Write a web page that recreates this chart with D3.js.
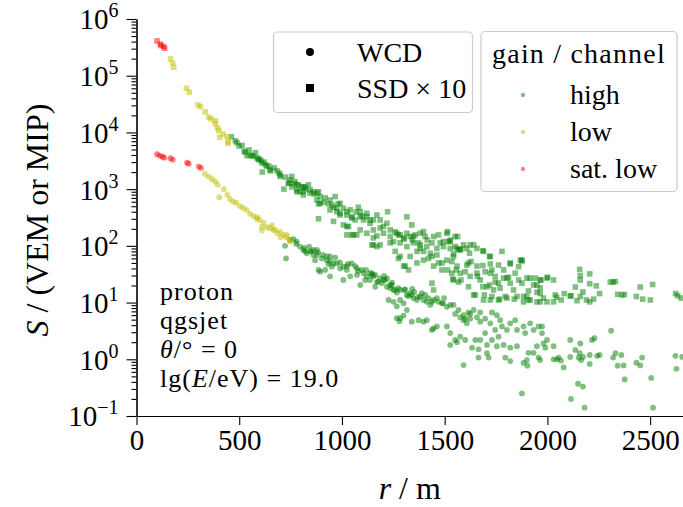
<!DOCTYPE html>
<html>
<head>
<meta charset="utf-8">
<script src="https://cdn.jsdelivr.net/npm/d3@7"></script>
<style>
  body { margin: 0; background: #fff; }
  text { font-family: "Liberation Serif", "DejaVu Serif", serif; fill: #000; }
</style>
</head>
<body>
<svg id="chart" width="683" height="507"></svg>
<script>
// ---- data: [r (m), S (VEM or MIP)] ----
const wcdSatLow = [[100,4130],[113,3900],[126,3740],[135,3590],[165,3510],[176,3310],[246,2930],[254,2815],[303,2500],[314,2370]];

const wcdLow = [[333,1850],[352,1660],[368,1500],[384,1360],[395,1190],[425,1000],[403,720],[442,790],[455,665],[471,600],
  [485,575],[504,500],[520,460],[537,430],[553,365],[569,335],[588,320],[598,286],[618,256],[634,213],[610,186],[650,205],
  [675,191],[699,177],[715,156],[728,142],[744,127],[702,142],[748,119],[686,165],[660,230],[585,300],[610,217],[666,191],[732,156]];

const wcdHigh = [[764,131],[780,119],[796,97],[812,85],[723,100],[728,60],[829,74],[853,80],[878,69],[869,56],[902,60],[926,56],
  [934,48],[951,43],[975,49],[991,40],[1024,44],[1048,49],[1073,40],[1097,37.6],[748,127],[845,80],[861,69],[878,85],[894,35],
  [918,37.6],[942,65],[959,49],[1007,25],[1024,37.6],[1040,29],[1073,30.7],[1105,33],[1121,29],[1137,25],[1170,23],[1202,25],
  [1219,19],[1227,11.1],[1251,16.7],[1267,15],[1283,11.1],[1267,8.6],[1283,5.3],[1300,5.9],[1316,7.4],[1146,33],[1162,19],
  [1194,22],[1219,26.6],[1235,18],[1259,16.7],[1308,17],[1251,10.3],[1267,5.3],[1280,4.7],[1300,9.7],[1316,13.6],[1332,14.6],
  [1348,12],[1365,11.1],[1381,12.8],[1397,11.1],[1413,10.3],[1430,9.1],[1446,11.1],[1462,12],[1487,9.7],[1511,8.4],[1543,9.1],
  [1567,7.4],[1592,6.0],[1616,6.7],[1641,7.4],[1624,5.2],[1657,5.5],[1673,4.6],[1697,5.2],[1722,4.3],[1730,6.7],[1754,6.0],
  [1770,4.9],[1746,3.3],[1762,2.5],[1779,3.8],[1803,3.3],[1819,4.3],[1843,4.9],[1852,3.3],[1884,3.8],[1892,2.9],[1916,4.3],
  [1933,3.3],[1957,3.8],[1974,2.9],[1981,1.9],[1949,1.7],[1908,1.3],[1933,1.3],[1957,1.07],[1900,0.97],[1884,0.86],[1852,1.7],
  [1819,1.6],[1787,1.79],[1754,1.7],[1730,2.19],[1706,1.79],[1673,2.19],[1697,2.9],[1649,2.19],[1633,1.6],[1600,2.19],
  [1576,2.5],[1560,2.0],[1527,2.9],[1511,3.8],[1462,3.8],[1438,3.3],[1413,4.9],[1397,4.6],[1373,4.9],[1340,4.6],[1527,1.79],
  [1551,2.19],[1665,1.07],[1714,1.07],[1795,1.07],[1819,0.93],[1592,0.79],[2030,1.0],[2047,1.0],[2030,1.7],[1998,2.19],
  [1990,1.6],[1446,3.5],[1592,4.9],[1608,4.3],[1673,6.7],[1153,29],[1186,27],[1243,20.4],[1283,16.7],[1340,13.6],[1389,14.6],
  [1421,12],[1438,10.3],[1470,10.3],[1527,9.1],[1551,6.3],[1576,5.5],[1600,5.2],[1624,6.3],[1974,3.8],[2055,1.07],[2066,0.95],
  [2079,0.72],[2111,2.19],[2136,1.46],[2157,1.28],[2160,1.9],[2111,1.1],[2152,1.07],[2164,0.97],[2173,1.1],[2206,1.19],
  [2206,0.83],[2217,2.19],[2229,2.35],[2242,1.15],[2254,1.19],[2310,3.2],[2331,1.28],[2320,1.07],[2360,1.19],[2342,0.77],
  [2371,0.78],[2376,0.44],[2433,0.87],[2452,0.78],[2461,1.07],[2505,0.47],[2623,1.15],[2656,1.1],[2628,0.68],[2149,0.37],
  [2173,0.33],[2115,0.2],[2181,0.14],[2514,0.14],[1876,0.25],[1665,1.5],[1706,1.28],[1903,0.77],[1965,0.97],[821,80],[861,85],
  [926,65],[942,53],[1007,43],[1137,33],[1162,30.7],[1210,25],[1235,20.4],[886,37.6],[1089,20.4],[1113,25],[942,29],
  [777,108],[816,92],[840,97],[884,77],[908,69],[967,62],[991,51],[1030,48],[1064,44],[1079,36],[1118,37.6],[1147,30.7],
  [1177,23.5],[1205,29.5],[1244,22.5],[1274,18],[1303,16.7],[1323,13],[1352,15.4],[1371,12.5],[1405,13.6],[1492,9.7],
  [1497,12],[1342,17.5]];

const ssdSatLow = [[100,410000],[116,360000],[119,340000],[132,326000],[137,305000]];

const ssdLow = [[165,198000],[176,166000],[181,141000],[243,60000],[257,51000],[300,30500],[311,28500],[335,23000],[352,18500],
  [363,17300],[384,16100],[384,14100],[395,11900],[400,10800],[421,9400],[405,8200],[441,8400],[444,6450],[447,6900]];

const ssdHigh = [[462,8400],[481,7100],[489,6600],[514,5900],[525,4650],[538,3900],[563,3900],[579,4400],[587,3550],[606,3200],
  [627,2700],[644,2550],[612,2000],[652,2100],[684,2100],[700,1670],[725,1630],[717,1000],[742,1270],[782,1190],[806,1110],
  [822,1080],[528,4500],[553,3950],[569,3800],[593,3300],[610,2900],[634,2550],[650,2200],[699,1780],[739,1270],[756,1100],
  [780,970],[796,900],[812,790],[837,1190],[845,970],[878,850],[894,740],[910,590],[886,550],[934,550],[959,480],[942,430],
  [975,400],[991,350],[886,300],[959,270],[1024,350],[1048,310],[1080,480],[1089,400],[1105,286],[1121,325],[1137,250],
  [1024,220],[1056,156],[1024,156],[1089,191],[1153,191],[1170,150],[1153,104],[1170,97],[756,1670],[772,1350],[788,1190],
  [812,1100],[812,900],[780,900],[845,850],[861,900],[886,900],[878,645],[894,560],[942,645],[967,740],[951,526],[991,560],
  [975,460],[1007,460],[1024,400],[991,375],[1048,325],[1064,286],[1089,325],[1121,375],[1153,286],[1170,350],[1186,286],
  [1202,220],[1219,250],[1222,400],[1235,191],[1007,234],[1032,220],[1048,156],[1072,156],[1121,167],[1153,138],[1186,104],
  [1146,104],[1235,146],[1251,119],[1267,167],[1283,156],[1300,138],[1316,325],[1332,146],[1340,234],[1356,156],[1373,113],
  [1365,80],[1397,178],[1405,146],[1381,90],[1397,80],[1413,97],[1430,74],[1438,65],[1462,69],[1446,146],[1470,156],[1494,119],
  [1511,167],[1519,119],[1527,90],[1551,146],[1560,90],[1568,85],[1543,65],[1511,56],[1487,50],[1470,50],[1397,56],[1365,50],
  [1332,65],[1308,44],[1283,65],[1259,80],[1235,113],[1202,167],[1275,156],[1316,167],[1348,146],[1381,167],[1514,178],
  [1563,146],[1283,113],[1316,97],[1348,113],[1381,104],[1438,113],[1462,90],[1527,127],[1551,97],[1576,85],[1608,90],
  [1624,104],[1657,90],[1689,80],[1722,65],[1779,80],[1819,50],[1876,56],[1275,60],[1300,44],[1324,37.6],[1421,60],[1446,44],
  [1487,37.6],[1535,33],[1560,44],[1576,33],[1600,35],[1616,50],[1624,29],[1657,33],[1673,25],[1697,35],[1722,33],[1746,29],
  [1762,22],[1787,37.6],[1803,27],[1819,22],[1843,33],[1860,25],[1876,22],[1900,27],[1916,27],[1941,27],[1965,25],[1998,27],
  [2030,25],[1706,19],[1738,16.7],[1770,18],[1795,12.8],[1762,11.1],[1689,11.1],[1722,11.1],[1649,13.6],[1616,19],[1567,23],
  [1543,25],[1438,22],[1446,16.7],[1852,12.8],[1884,10.3],[1900,12.8],[1933,20.4],[1949,15.2],[1965,14.4],[1981,12],
  [1998,10.3],[2038,13.6],[2030,10.3],[1949,10.3],[1916,11.1],[1835,16.7],[1527,119],[1494,97],[1579,88],[1592,104],
  [1641,104],[1686,82],[1543,72],[1621,74],[1718,65],[1535,53],[1628,53],[1722,48],[1514,37.6],[1556,37.6],[1608,46],
  [1657,44],[1686,45],[1730,37.6],[1762,46],[1819,48],[1868,56],[1876,54],[1860,43],[1811,28],[1787,27],[1746,23],[1718,20.4],
  [1686,19],[1660,29],[1579,25],[1540,26],[1641,13.6],[1693,13.6],[1730,12.8],[1767,11.5],[1803,12],[1839,11.5],[1884,12.8],
  [1908,16],[1949,20.4],[1969,25],[2001,28],[1965,18],[1965,10.3],[1908,11.1],[2067,11.1],[2111,13],[2082,14.4],[2045,12.4],
  [2157,38.5],[2160,30],[2206,32],[2160,25],[2206,21.5],[2238,19.7],[2136,18.8],[2173,15.4],[2160,12.8],[2115,13.2],
  [2144,10.8],[2190,11.1],[2206,10.3],[2225,11.5],[2254,14.4],[2306,23],[2320,23],[2331,23.5],[2342,14],[2363,13.6],
  [2375,13.9],[2433,12.8],[2452,18.8],[2464,11.5],[2501,11.1],[2512,20.8],[2624,14.4],[2634,13.2],[2651,12],
  [499,5780],[548,4910],[597,3400],[621,3000],[670,2370],[694,1930],[748,1450],[767,1240],[821,1010],[865,822],[918,700],
  [981,550],[1040,430],[1069,395],[1098,337],[1137,286],[1186,207],[1259,176],[1303,132],[1342,127],[1415,127],[1478,113]];

const xTicks = [0, 500, 1000, 1500, 2000, 2500];
const yDecades = [0.1, 1, 10, 100, 1000, 1e4, 1e5, 1e6];
const gainLabels = ['high', 'low', 'sat. low'];
const gainColors = ['#008000', '#bfbf00', '#ff0000'];
const infoLines = ['proton', 'qgsjet', 'theta', 'energy'];

// ---- layout ----
const plotLeft = 136.5, plotRight = 683, plotTop = 19, plotBottom = 416;
const svg = d3.select('#chart');

const x = d3.scaleLinear().domain([0, 2660]).range([plotLeft, plotRight]);
const y = d3.scaleLog().domain([0.1, 1e6]).range([plotBottom, plotTop]);

svg.append('defs').append('clipPath').attr('id', 'plot')
  .append('rect')
    .attr('x', plotLeft).attr('y', plotTop)
    .attr('width', plotRight - plotLeft).attr('height', plotBottom - plotTop);

let plot = svg.append('g').attr('clip-path', 'url(#plot)');

function squares(data, color) {
  let s = 5.6;
  plot.append('g').selectAll('rect')
      .data(data)
    .enter().append('rect')
      .attr('x', d => x(d[0]) - s / 2)
      .attr('y', d => y(d[1]) - s / 2)
      .attr('width', s)
      .attr('height', s)
      .style('fill', color)
      .style('fill-opacity', 0.5);
}

function circles(data, color) {
  plot.append('g').selectAll('circle')
      .data(data)
    .enter().append('circle')
      .attr('cx', d => x(d[0]))
      .attr('cy', d => y(d[1]))
      .attr('r', 2.9)
      .style('fill', color)
      .style('fill-opacity', 0.5);
}

squares(ssdHigh, gainColors[0]);
squares(ssdLow, gainColors[1]);
squares(ssdSatLow, gainColors[2]);
circles(wcdHigh, gainColors[0]);
circles(wcdLow, gainColors[1]);
circles(wcdSatLow, gainColors[2]);

// ---- axes ----
let xAxis = d3.axisBottom(x)
    .tickValues(xTicks)
    .tickSize(9)
    .tickSizeOuter(0)
    .tickPadding(4)
    .tickFormat(d3.format('d'));

let gx = svg.append('g')
    .attr('transform', `translate(0,${plotBottom})`)
    .call(xAxis);
gx.selectAll('text').style('font-size', '29px');

let minors = [];
yDecades.slice(0, -1).forEach(d => { for (let k = 2; k < 10; k++) minors.push(d * k); });

svg.append('g')
    .attr('transform', `translate(${plotLeft},0)`)
    .call(d3.axisLeft(y).tickValues(minors).tickSize(5).tickSizeOuter(0).tickFormat(''));

let gy = svg.append('g')
    .attr('transform', `translate(${plotLeft},0)`)
    .call(d3.axisLeft(y).tickValues(yDecades).tickSize(10).tickSizeOuter(0).tickPadding(8));

gy.selectAll('.tick text')
    .style('font-size', '29px')
    .attr('dy', '0.34em')
    .each(function(d) {
      let t = d3.select(this);
      t.text(null);
      t.append('tspan').text('10');
      t.append('tspan')
        .attr('dy', -12)
        .style('font-size', '20px')
        .text(String(Math.round(Math.log10(d))).replace('-', '\u2212'));
    });

svg.selectAll('.domain, .tick line').style('stroke', '#000').style('stroke-width', 1.1);

// axis titles
let xt = svg.append('text')
    .attr('x', (plotLeft + plotRight) / 2)
    .attr('y', 499)
    .attr('text-anchor', 'middle')
    .style('font-size', '32px');
xt.append('tspan').style('font-style', 'italic').text('r');
xt.append('tspan').text(' / m');

let yt = svg.append('text')
    .attr('transform', 'translate(48,220) rotate(-90)')
    .attr('text-anchor', 'middle')
    .style('font-size', '32px');
yt.append('tspan').style('font-style', 'italic').text('S');
yt.append('tspan').text(' / (VEM or MIP)');

// ---- annotation (one text block, one line per entry) ----
let info = svg.append('text')
    .attr('x', 160)
    .attr('y', 300)
    .style('font-size', '26px')
    .style('letter-spacing', '1px');
infoLines.forEach((key, i) => {
  let first = info.append('tspan').attr('x', 160).attr('dy', i === 0 ? 0 : 29);
  if (key === 'theta') {
    first.style('font-style', 'italic').text('\u03b8');
    info.append('tspan').text('/\u00b0 = 0');
  } else if (key === 'energy') {
    first.text('lg(');
    info.append('tspan').style('font-style', 'italic').text('E');
    info.append('tspan').text('/eV) = 19.0');
  } else {
    first.text(key);
  }
});

// ---- legends ----
function frame(x0, y0, w, h) {
  svg.append('rect')
    .attr('x', x0).attr('y', y0).attr('width', w).attr('height', h)
    .attr('rx', 4)
    .style('fill', '#fff').style('fill-opacity', 0.8)
    .style('stroke', '#cccccc').style('stroke-width', 1.2);
}

frame(273.5, 32, 199, 80.5);
svg.append('circle').attr('cx', 310).attr('cy', 52).attr('r', 4).style('fill', '#000');
svg.append('rect').attr('x', 306).attr('y', 84).attr('width', 8).attr('height', 8).style('fill', '#000');
svg.append('text').attr('x', 357).attr('y', 62).style('font-size', '28px').text('WCD');
svg.append('text').attr('x', 357).attr('y', 98).style('font-size', '28px').text('SSD \u00d7 10');

frame(481, 31.5, 196, 160);
svg.append('text').attr('x', 579).attr('y', 63).attr('text-anchor', 'middle')
  .style('font-size', '28px').style('letter-spacing', '1.2px').text('gain / channel');

let legY = [95, 132, 169];
gainLabels.forEach((g, i) => {
  svg.append('circle').attr('cx', 523).attr('cy', legY[i]).attr('r', 2.2)
    .style('fill', gainColors[i]).style('fill-opacity', 0.5);
  svg.append('text').attr('x', 570).attr('y', legY[i] + 9).style('font-size', '28px').text(g);
});
</script>
</body>
</html>
